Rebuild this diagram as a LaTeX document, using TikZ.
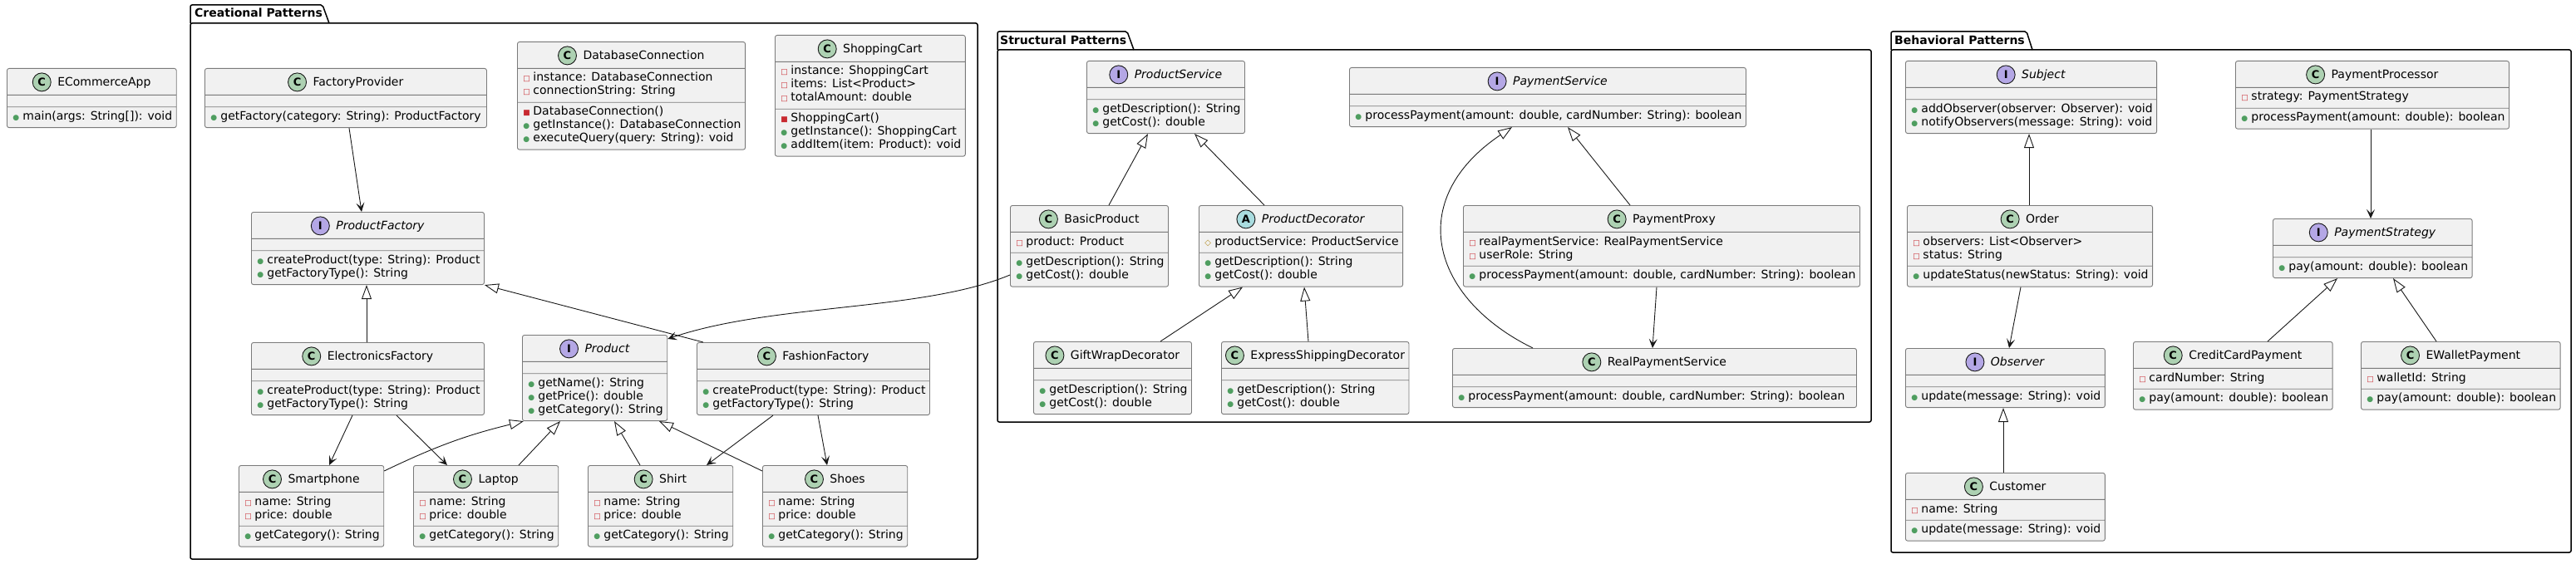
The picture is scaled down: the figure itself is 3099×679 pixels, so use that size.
\documentclass[tikz,border=0pt]{standalone}
\usepackage{fontspec}
\setmainfont{DejaVu Sans}
\usetikzlibrary{shapes.multipart,arrows.meta}
\definecolor{boxfill}{HTML}{F1F1F1}
\definecolor{boxline}{HTML}{7A7A7A}
\definecolor{edge}{HTML}{181818}
\definecolor{iconC}{HTML}{ADD1B2}
\definecolor{iconI}{HTML}{B4A7E5}
\definecolor{iconA}{HTML}{A9DCDF}
\definecolor{pubgreen}{HTML}{4F9E60}
\definecolor{privred}{HTML}{C82930}
\definecolor{protgold}{HTML}{B38D22}
\tikzset{
  >={Stealth[length=11pt,width=10pt,inset=5pt]},
}
\tikzstyle{umlbox}=[draw=boxline,fill=boxfill,line width=0.9pt,rounded corners=2.5pt,
  rectangle split,rectangle split parts=3,rectangle split part align={center,left,left},
  rectangle split empty part height=1pt,rectangle split empty part depth=0pt,
  inner xsep=5pt,inner ysep=4pt,anchor=north west,font=\fontsize{14}{16}\selectfont]
\tikzstyle{icon}=[circle,draw=edge,line width=0.9pt,minimum size=22pt,inner sep=0pt,
  font=\fontsize{13}{13}\selectfont\bfseries]
\tikzstyle{assoc}=[->,draw=edge,line width=0.9pt]
\tikzstyle{inherit}=[-{Triangle[length=17pt,width=12pt,fill=white]},draw=edge,line width=0.9pt]
\tikzstyle{pkg}=[draw=black,line width=1.5pt,rounded corners=2pt]
\tikzstyle{pkgtitle}=[anchor=base west,inner sep=0pt,font=\fontsize{14}{16}\selectfont\bfseries]
% member markers
\newcommand{\pubm}{\textcolor{pubgreen}{\fontsize{9}{9}\selectfont ●}}
\newcommand{\privf}{\textcolor{privred}{\fontsize{9}{9}\selectfont □}}
\newcommand{\privm}{\textcolor{privred}{\fontsize{9}{9}\selectfont ■}}
\newcommand{\protf}{\textcolor{protgold}{\fontsize{10}{10}\selectfont ◇}}
\newcommand{\mem}[2]{\makebox[14pt][l]{\hspace{2pt}#1}#2}
\newcommand{\members}[1]{\begin{tabular}{@{}l@{}}#1\end{tabular}}
% name, position, width, kind, title, attributes, methods
\newcommand{\umlclass}[7]{%
  \node[umlbox,minimum width=#3] (#1) at #2
    {\rule[-6pt]{0pt}{23pt}\hspace*{30pt}#5\nodepart{two}#6\nodepart{three}#7};
  \node[icon,fill=icon#4] (#1-icon) at ([xshift=11pt,yshift=5pt]#1.text) {#4};
}
\begin{document}
\begin{tikzpicture}[x=1pt,y=-1pt]
    \useasboundingbox (0,0) rectangle (3099,679);
    % packages
    \draw[pkg] (229,28) rectangle (1176,673);
    \draw[pkg] (229,28) -- (229,6) -- (388,6) -- (396,28);
    \node[pkgtitle] (creational) at (234,21) {Creational Patterns};
    \draw[pkg] (1200,60) rectangle (2251,508);
    \draw[pkg] (1200,60) -- (1200,38) -- (1356,38) -- (1364,60);
    \node[pkgtitle] (structural) at (1203,54) {Structural Patterns};
    \draw[pkg] (2275,60) rectangle (3093,665);
    \draw[pkg] (2275,60) -- (2275,38) -- (2438,38) -- (2445,60);
    \node[pkgtitle] (behavioral) at (2279,54) {Behavioral Patterns};

    \umlclass{ecom}{(8,82)}{202pt}{C}{ECommerceApp}{}
      {\members{\mem\pubm{main(args: String[]): void}}}

    % creational
    \umlclass{fprov}{(246,82)}{339pt}{C}{FactoryProvider}{}
      {\members{\mem\pubm{getFactory(category: String): ProductFactory}}}
    \umlclass{dbconn}{(622,50)}{273pt}{C}{DatabaseConnection}
      {\members{\mem\privf{instance: DatabaseConnection}\\
                \mem\privf{connectionString: String}}}
      {\members{\mem\privm{DatabaseConnection()}\\
                \mem\pubm{getInstance(): DatabaseConnection}\\
                \mem\pubm{executeQuery(query: String): void}}}
    \umlclass{cart}{(932,42)}{227pt}{C}{ShoppingCart}
      {\members{\mem\privf{instance: ShoppingCart}\\
                \mem\privf{items: List<Product>}\\
                \mem\privf{totalAmount: double}}}
      {\members{\mem\privm{ShoppingCart()}\\
                \mem\pubm{getInstance(): ShoppingCart}\\
                \mem\pubm{addItem(item: Product): void}}}
    \umlclass{pfact}{(302,255)}{279pt}{I}{\textit{ProductFactory}}{}
      {\members{\mem\pubm{createProduct(type: String): Product}\\
                \mem\pubm{getFactoryType(): String}}}
    \umlclass{efact}{(302,412)}{279pt}{C}{ElectronicsFactory}{}
      {\members{\mem\pubm{createProduct(type: String): Product}\\
                \mem\pubm{getFactoryType(): String}}}
    \umlclass{product}{(628,403)}{173pt}{I}{\textit{Product}}{}
      {\members{\mem\pubm{getName(): String}\\
                \mem\pubm{getPrice(): double}\\
                \mem\pubm{getCategory(): String}}}
    \umlclass{ffact}{(838,412)}{278pt}{C}{FashionFactory}{}
      {\members{\mem\pubm{createProduct(type: String): Product}\\
                \mem\pubm{getFactoryType(): String}}}
    \umlclass{phone}{(287,560)}{173pt}{C}{Smartphone}
      {\members{\mem\privf{name: String}\\ \mem\privf{price: double}}}
      {\members{\mem\pubm{getCategory(): String}}}
    \umlclass{laptop}{(497,560)}{173pt}{C}{Laptop}
      {\members{\mem\privf{name: String}\\ \mem\privf{price: double}}}
      {\members{\mem\pubm{getCategory(): String}}}
    \umlclass{shirt}{(707,560)}{173pt}{C}{Shirt}
      {\members{\mem\privf{name: String}\\ \mem\privf{price: double}}}
      {\members{\mem\pubm{getCategory(): String}}}
    \umlclass{shoes}{(917,560)}{173pt}{C}{Shoes}
      {\members{\mem\privf{name: String}\\ \mem\privf{price: double}}}
      {\members{\mem\pubm{getCategory(): String}}}

    % structural
    \umlclass{psvc}{(1307,73)}{189pt}{I}{\textit{ProductService}}{}
      {\members{\mem\pubm{getDescription(): String}\\
                \mem\pubm{getCost(): double}}}
    \umlclass{paysvc}{(1623,81)}{475pt}{I}{\textit{PaymentService}}{}
      {\members{\mem\pubm{processPayment(amount: double, cardNumber: String): boolean}}}
    \umlclass{basic}{(1215,247)}{190pt}{C}{BasicProduct}
      {\members{\mem\privf{product: Product}}}
      {\members{\mem\pubm{getDescription(): String}\\
                \mem\pubm{getCost(): double}}}
    \umlclass{pdec}{(1442,247)}{245pt}{A}{\textit{ProductDecorator}}
      {\members{\mem\protf{productService: ProductService}}}
      {\members{\mem\pubm{getDescription(): String}\\
                \mem\pubm{getCost(): double}}}
    \umlclass{proxy}{(1760,247)}{475pt}{C}{PaymentProxy}
      {\members{\mem\privf{realPaymentService: RealPaymentService}\\
                \mem\privf{userRole: String}}}
      {\members{\mem\pubm{processPayment(amount: double, cardNumber: String): boolean}}}
    \umlclass{gift}{(1243,411)}{190pt}{C}{GiftWrapDecorator}{}
      {\members{\mem\pubm{getDescription(): String}\\
                \mem\pubm{getCost(): double}}}
    \umlclass{express}{(1469,411)}{217pt}{C}{ExpressShippingDecorator}{}
      {\members{\mem\pubm{getDescription(): String}\\
                \mem\pubm{getCost(): double}}}
    \umlclass{real}{(1747,419)}{486pt}{C}{RealPaymentService}{}
      {\members{\mem\pubm{processPayment(amount: double, cardNumber: String): boolean}}}

    % behavioral
    \umlclass{subject}{(2292,73)}{300pt}{I}{\textit{Subject}}{}
      {\members{\mem\pubm{addObserver(observer: Observer): void}\\
                \mem\pubm{notifyObservers(message: String): void}}}
    \umlclass{pproc}{(2689,73)}{328pt}{C}{PaymentProcessor}
      {\members{\mem\privf{strategy: PaymentStrategy}}}
      {\members{\mem\pubm{processPayment(amount: double): boolean}}}
    \umlclass{order}{(2294,247)}{293pt}{C}{Order}
      {\members{\mem\privf{observers: List<Observer>}\\
                \mem\privf{status: String}}}
      {\members{\mem\pubm{updateStatus(newStatus: String): void}}}
    \umlclass{pstrat}{(2734,263)}{237pt}{I}{\textit{PaymentStrategy}}{}
      {\members{\mem\pubm{pay(amount: double): boolean}}}
    \umlclass{observer}{(2292,419)}{238pt}{I}{\textit{Observer}}{}
      {\members{\mem\pubm{update(message: String): void}}}
    \umlclass{customer}{(2292,569)}{238pt}{C}{Customer}
      {\members{\mem\privf{name: String}}}
      {\members{\mem\pubm{update(message: String): void}}}
    \umlclass{credit}{(2566,411)}{237pt}{C}{CreditCardPayment}
      {\members{\mem\privf{cardNumber: String}}}
      {\members{\mem\pubm{pay(amount: double): boolean}}}
    \umlclass{ewallet}{(2840,411)}{237pt}{C}{EWalletPayment}
      {\members{\mem\privf{walletId: String}}}
      {\members{\mem\pubm{pay(amount: double): boolean}}}

    % connectors
    \draw[assoc] ([xshift=174pt]fprov.south west) -- ([xshift=133pt]pfact.north west);
    \draw[inherit] ([xshift=139pt]efact.north west) -- ([xshift=139pt]pfact.south west);
    \draw[inherit] ([xshift=8pt]ffact.north west) -- (pfact.south east);
    \draw[assoc] ([xshift=122pt]efact.south west) -- ([xshift=109pt]phone.north west);
    \draw[assoc] ([xshift=175pt]efact.south west) -- ([xshift=41pt]laptop.north west);
    \draw[inherit] ([yshift=-7pt]phone.north east) to[bend left=6] ([xshift=2pt]product.south west);
    \draw[inherit] ([xshift=127pt]laptop.north west) -- ([xshift=46pt]product.south west);
    \draw[inherit] ([xshift=63pt]shirt.north west) -- ([xshift=111pt]product.south west);
    \draw[inherit] ([yshift=-7pt]shoes.north west) -- ([xshift=165pt]product.south west);
    \draw[assoc] ([xshift=92pt]ffact.south west) -- ([xshift=143pt]shirt.north west);
    \draw[assoc] ([xshift=146pt]ffact.south west) -- ([xshift=78pt]shoes.north west);
    \draw[assoc] ([yshift=-84pt]basic.north west) .. controls (1110,375) and (930,365)
      .. ([yshift=-5pt]product.north east);
    \draw[inherit] ([xshift=119pt]basic.north west) -- ([xshift=74pt]psvc.south west);
    \draw[inherit] ([xshift=79pt]pdec.north west) -- ([xshift=130pt]psvc.south west);
    \draw[inherit] ([xshift=153pt]gift.north west) -- ([xshift=53pt]pdec.south west);
    \draw[inherit] ([xshift=105pt]express.north west) -- ([xshift=127pt]pdec.south west);
    \draw[inherit] ([xshift=201pt]proxy.north west) -- ([xshift=263pt]paysvc.south west);
    \draw[inherit] ([xshift=97pt]real.north west) .. controls (1720,358) and (1690,240)
      .. ([xshift=196pt]paysvc.south west);
    \draw[assoc] ([xshift=233pt]proxy.south west) -- ([xshift=241pt]real.north west);
    \draw[inherit] ([xshift=147pt]order.north west) -- ([xshift=149pt]subject.south west);
    \draw[assoc] ([xshift=163pt]pproc.south west) -- ([xshift=118pt]pstrat.north west);
    \draw[assoc] ([xshift=137pt]order.south west) -- ([xshift=125pt]observer.north west);
    \draw[inherit] ([xshift=118pt]customer.north west) -- ([xshift=118pt]observer.south west);
    \draw[inherit] ([xshift=162pt]credit.north west) -- ([xshift=78pt]pstrat.south west);
    \draw[inherit] ([xshift=91pt]ewallet.north west) -- ([xshift=145pt]pstrat.south west);
\end{tikzpicture}
\end{document}
